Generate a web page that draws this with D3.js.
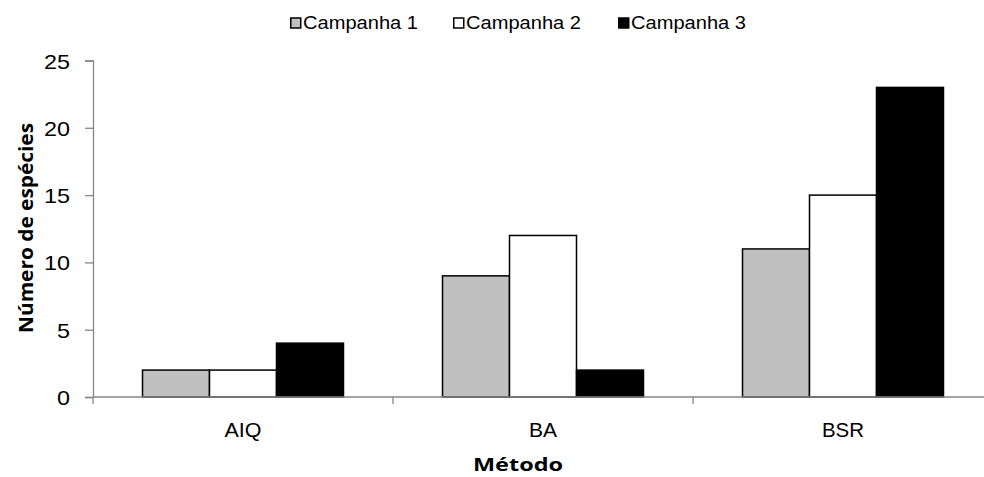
<!DOCTYPE html>
<html>
<head>
<meta charset="utf-8">
<script src="https://cdn.jsdelivr.net/npm/d3@7"></script>
<style>
  html, body { margin: 0; padding: 0; background: #fff; }
  svg { display: block; }
</style>
</head>
<body>
<svg id="chart" width="984" height="477"></svg>
<script>
// Number of species per sampling method and campaign
const categories = ["AIQ", "BA", "BSR"];
const seriesNames = ["Campanha 1", "Campanha 2", "Campanha 3"];
const campanha1 = [2, 9, 11];
const campanha2 = [2, 12, 15];
const campanha3 = [4, 2, 23];
const yTicks = [0, 5, 10, 15, 20, 25];

const seriesValues = [campanha1, campanha2, campanha3];
const fills = ["#c0c0c0", "#ffffff", "#000000"];

const svg = d3.select("#chart");
const axisColor = "#868686";

const x0 = d3.scaleBand().domain(categories).range([93, 993]).paddingInner(0).paddingOuter(0);
const x1 = d3.scaleBand().domain(seriesNames).range([0, x0.bandwidth()]).paddingInner(0).paddingOuter(0.739);
const y = d3.scaleLinear().domain([0, 25]).range([397, 60.5]);

// Bars
const groups = svg.append("g").selectAll("g")
  .data(categories)
  .join("g")
  .attr("transform", d => `translate(${x0(d)},0)`);

groups.selectAll("rect")
  .data((c, i) => seriesNames.map((s, k) => ({ s, k, v: seriesValues[k][i] })))
  .join("rect")
  .attr("x", d => x1(d.s))
  .attr("width", x1.bandwidth())
  .attr("y", d => y(d.v))
  .attr("height", d => y(0) - y(d.v))
  .attr("fill", d => fills[d.k])
  .attr("stroke", "#000")
  .attr("stroke-width", 1.5);

// Y axis
const yAxis = d3.axisLeft(y).tickValues(yTicks).tickSize(8).tickPadding(15).tickFormat(d3.format("d"));
const gy = svg.append("g").attr("transform", "translate(93,0)").call(yAxis);
gy.select(".domain").attr("stroke", axisColor).attr("stroke-width", 1.3);
gy.selectAll(".tick line").attr("stroke", axisColor).attr("stroke-width", 1.3);
gy.selectAll(".tick text")
  .attr("fill", "#000")
  .style("font-family", "'Liberation Sans', Arial, sans-serif")
  .style("font-size", "21px")
  .attr("dy", "0.36em")
  .attr("textLength", d => d >= 10 ? 26 : 13)
  .attr("lengthAdjust", "spacingAndGlyphs");

// X axis: tick marks between categories
const gx = svg.append("g").attr("transform", `translate(0,${y(0)})`);
gx.append("line")
  .attr("x1", 93).attr("x2", 993)
  .attr("stroke", axisColor).attr("stroke-width", 1.3);
const bounds = categories.map(c => x0(c)).concat([x0(categories[categories.length - 1]) + x0.bandwidth()]);
gx.selectAll("line.tk").data(bounds).join("line")
  .attr("class", "tk")
  .attr("x1", d => d).attr("x2", d => d)
  .attr("y1", 0).attr("y2", 7)
  .attr("stroke", axisColor).attr("stroke-width", 1.3);

const catWidths = { "AIQ": 37, "BA": 28, "BSR": 42 };
svg.append("g").selectAll("text")
  .data(categories)
  .join("text")
  .attr("x", d => x0(d) + x0.bandwidth() / 2)
  .attr("y", 437)
  .attr("text-anchor", "middle")
  .attr("textLength", d => catWidths[d])
  .attr("lengthAdjust", "spacingAndGlyphs")
  .style("font-family", "'Liberation Sans', Arial, sans-serif")
  .style("font-size", "21px")
  .text(d => d);

// Axis titles
svg.append("text")
  .attr("x", 518).attr("y", 471)
  .attr("text-anchor", "middle")
  .attr("textLength", 90)
  .attr("lengthAdjust", "spacingAndGlyphs")
  .style("font-family", "'Open Sans', sans-serif")
  .style("font-weight", "bold")
  .style("font-size", "18px")
  .text("Método");

svg.append("text")
  .attr("transform", "translate(33,228) rotate(-90)")
  .attr("text-anchor", "middle")
  .attr("textLength", 210)
  .attr("lengthAdjust", "spacingAndGlyphs")
  .style("font-family", "'Open Sans', sans-serif")
  .style("font-weight", "bold")
  .style("font-size", "19px")
  .text("Número de espécies");

// Legend
const legendX = [290, 453, 618];
const legend = svg.append("g").selectAll("g")
  .data(seriesNames)
  .join("g")
  .attr("transform", (d, i) => `translate(${legendX[i]},0)`);
legend.append("rect")
  .attr("x", 0.75).attr("y", 18)
  .attr("width", 10).attr("height", 10)
  .attr("fill", (d, i) => fills[i])
  .attr("stroke", "#000").attr("stroke-width", 1.5);
legend.append("text")
  .attr("x", 13).attr("y", 29)
  .attr("textLength", 115)
  .attr("lengthAdjust", "spacingAndGlyphs")
  .style("font-family", "'Liberation Sans', Arial, sans-serif")
  .style("font-size", "17.5px")
  .text(d => d);
</script>
</body>
</html>
